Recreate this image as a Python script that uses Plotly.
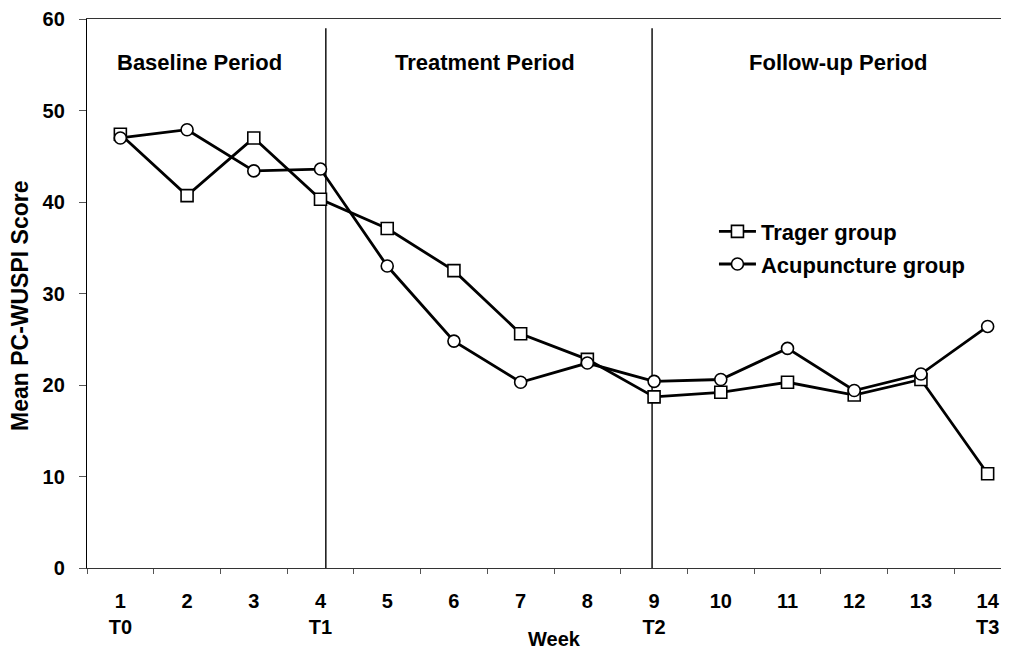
import plotly.graph_objects as go

weeks = ["1", "2", "3", "4", "5", "6", "7", "8", "9", "10", "11", "12", "13", "14"]
timepoints = ["T0", "", "", "T1", "", "", "", "", "T2", "", "", "", "", "T3"]
trager = [47.4, 40.7, 47.0, 40.3, 37.1, 32.5, 25.6, 22.8, 18.7, 19.2, 20.3, 18.9, 20.6, 10.3]
acupuncture = [47.0, 47.9, 43.4, 43.6, 33.0, 24.8, 20.3, 22.4, 20.4, 20.6, 24.0, 19.4, 21.2, 26.4]
period_labels = ["Baseline Period", "Treatment Period", "Follow-up Period"]

cats = [w + ("<br>" + t if t else "<br> ") for w, t in zip(weeks, timepoints)]

FONT = "Liberation Sans, Arial, sans-serif"

fig = go.Figure()
fig.add_trace(go.Scatter(
    x=cats, y=trager, mode="lines+markers", name="Trager group",
    legendgroup="a",
    line=dict(color="black", width=2.8),
    marker=dict(symbol="square", size=12, color="white",
                line=dict(color="black", width=1.6)),
))
fig.add_trace(go.Scatter(
    x=cats, y=acupuncture, mode="lines+markers", name="Acupuncture group",
    legendgroup="b",
    line=dict(color="black", width=2.8),
    marker=dict(symbol="circle", size=12, color="white",
                line=dict(color="black", width=1.6)),
))

# period boundary lines (category index positions)
for xb in [3.08, 7.97]:
    fig.add_shape(type="line", xref="x", yref="y", x0=xb, x1=xb, y0=0, y1=59,
                  line=dict(color="black", width=1.4), layer="below")

period_x = [1.18, 5.46, 10.76]
for lbl, px in zip(period_labels, period_x):
    fig.add_annotation(x=px, y=55.3, xref="x", yref="y", text="<b>%s</b>" % lbl,
                       showarrow=False, font=dict(size=22, color="black", family=FONT),
                       xanchor="center", yanchor="middle")

fig.add_annotation(x=6.5, xref="x", y=-0.129, yref="paper", text="<b>Week</b>",
                   showarrow=False, font=dict(size=20, color="black", family=FONT),
                   xanchor="center", yanchor="middle")
fig.add_annotation(x=-0.0727, xref="paper", y=0.479, yref="paper",
                   text="<b>Mean PC-WUSPI Score</b>", textangle=-90,
                   showarrow=False, font=dict(size=23, color="black", family=FONT),
                   xanchor="center", yanchor="middle")

# the page body has an 8px default margin, so the figure is shrunk by 8px
fig.update_layout(
    width=1001, height=644,
    margin=dict(l=79, r=0, t=11, b=84, autoexpand=False),
    paper_bgcolor="white", plot_bgcolor="white",
    font=dict(family=FONT, size=18, color="black"),
    showlegend=True,
    legend=dict(x=0.68, y=0.651, xanchor="left", yanchor="top",
                bgcolor="rgba(0,0,0,0)", traceorder="grouped", tracegroupgap=1,
                font=dict(size=22, family=FONT, color="black", weight="bold"),
                itemwidth=37),
    xaxis=dict(
        type="category", range=[-0.5, 13.32], tickson="boundaries",
        showgrid=False, zeroline=False,
        showline=True, linecolor="#333", linewidth=1, mirror=True,
        ticks="outside", ticklen=5, tickcolor="#555", tickwidth=1,
        tickfont=dict(size=20, family=FONT, color="black", weight="bold"),
        ticklabelstandoff=15,
        automargin=False,
    ),
    yaxis=dict(
        range=[0, 60], tickvals=[0, 10, 20, 30, 40, 50, 60],
        showgrid=False, zeroline=False,
        showline=True, linecolor="black", linewidth=1.4,
        ticks="outside", ticklen=7, tickcolor="#555", tickwidth=1,
        tickfont=dict(size=20, family=FONT, color="black", weight="bold"),
        ticklabelstandoff=10,
        automargin=False,
    ),
)

fig.write_html("out.html")
